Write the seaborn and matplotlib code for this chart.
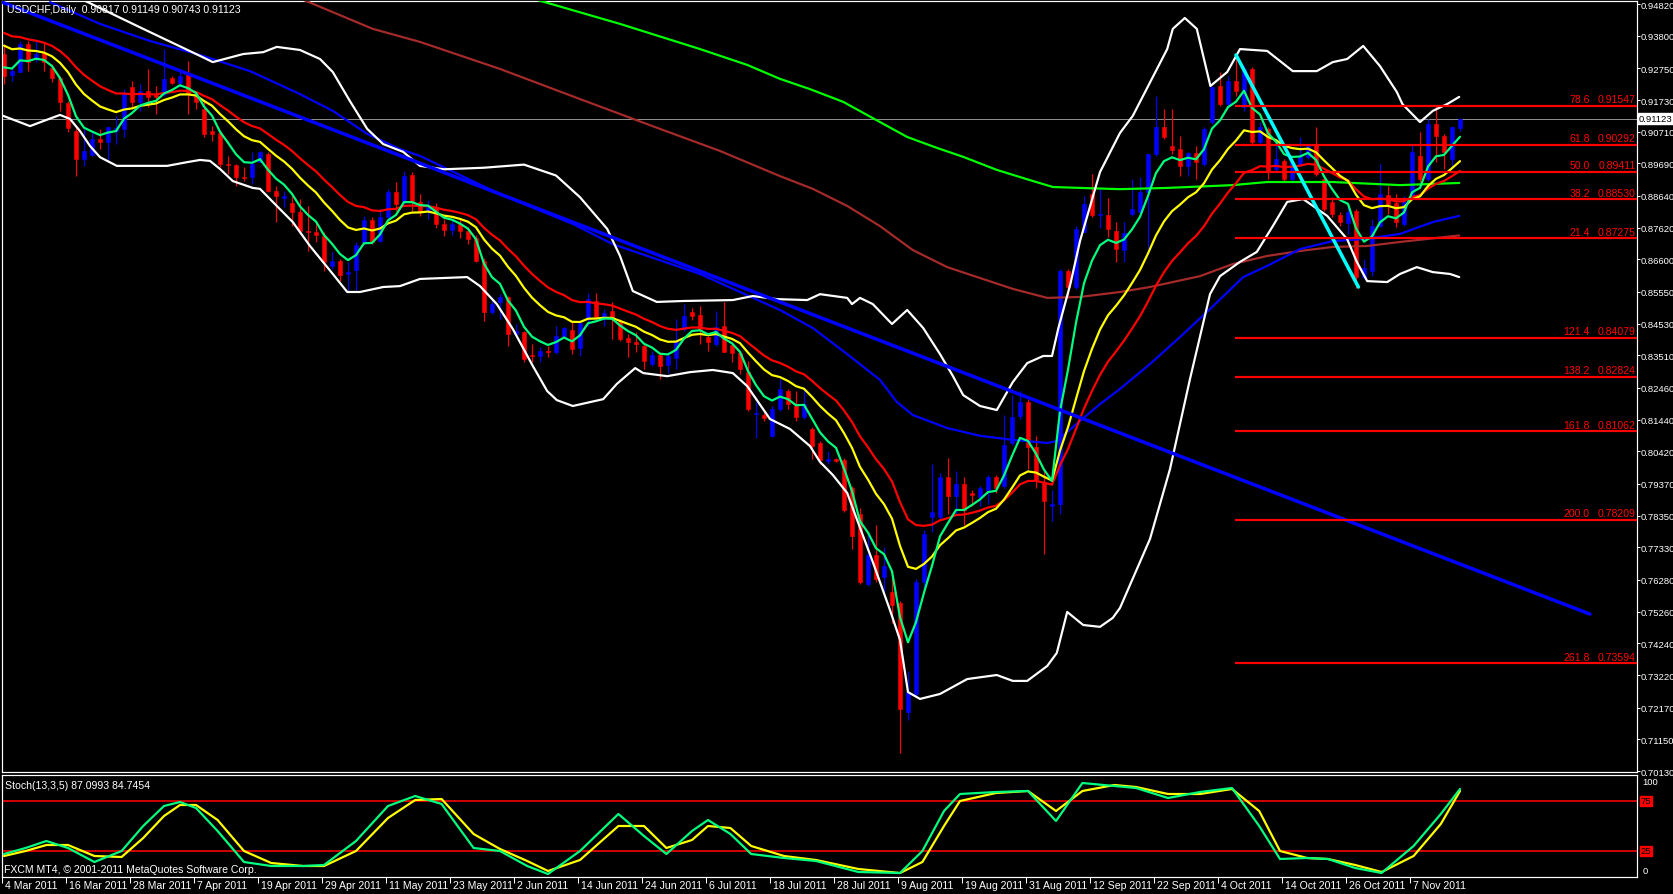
import numpy as np
import pandas as pd
import matplotlib
matplotlib.use("Agg")
import matplotlib.pyplot as plt
import matplotlib.transforms as mtransforms
import seaborn as sns

# ---------------- data ----------------
opens = [0.9321,0.9255,0.9264,0.9353,0.9307,0.9324,0.9275,0.9243,0.9163,0.9074,
         0.8983,0.8996,0.9047,0.9037,0.9074,0.9080,0.9214,0.9168,0.9203,0.9189,
         0.9192,0.9243,0.9228,0.9257,0.9187,0.9144,0.9074,0.9067,0.8968,0.8964,
         0.8926,0.8926,0.8974,0.9000,0.8881,0.8859,0.8841,0.8811,0.8752,0.8747,
         0.8734,0.8640,0.8654,0.8613,0.8627,0.8715,0.8788,0.8720,0.8795,0.8876,
         0.8844,0.8933,0.8844,0.8815,0.8830,0.8775,0.8755,0.8775,0.8750,0.8728,
         0.8656,0.8489,0.8522,0.8538,0.8420,0.8425,0.8352,0.8348,0.8364,0.8361,
         0.8412,0.8433,0.8374,0.8468,0.8527,0.8473,0.8495,0.8458,0.8406,0.8393,
         0.8382,0.8323,0.8352,0.8321,0.8341,0.8436,0.8489,0.8481,0.8409,0.8388,
         0.8447,0.8384,0.8359,0.8296,0.8161,0.8159,0.8092,0.8178,0.8237,0.8189,
         0.8151,0.8114,0.8069,0.8012,0.8017,0.8014,0.7923,0.7839,0.7616,0.7707,
         0.7637,0.7588,0.7553,0.7204,0.7260,0.7623,0.7832,0.7832,0.7958,0.7898,
         0.7937,0.7909,0.7895,0.7916,0.7958,0.7930,0.8070,0.8157,0.8202,0.8056,
         0.7944,0.7867,0.7874,0.8621,0.8572,0.8747,0.8872,0.8802,0.8802,0.8752,
         0.8691,0.8806,0.8812,0.8876,0.9000,0.9085,0.9026,0.9015,0.8962,0.9002,
         0.8967,0.9101,0.9217,0.9160,0.9235,0.9149,0.9273,0.9037,0.9080,0.8951,
         0.8978,0.8919,0.8967,0.8988,0.9031,0.8919,0.8846,0.8803,0.8777,0.8817,
         0.8602,0.8624,0.8768,0.8867,0.8841,0.8774,0.8867,0.8994,0.8919,0.9096,
         0.9058,0.8983,0.90817]
highs = [0.9353,0.9284,0.9364,0.9364,0.9364,0.9359,0.9289,0.9251,0.9171,0.9085,
         0.9080,0.9069,0.9080,0.9090,0.9123,0.9208,0.9235,0.9225,0.9273,0.9219,
         0.9337,0.9251,0.9273,0.9300,0.9198,0.9171,0.9090,0.9069,0.8994,0.8967,
         0.8956,0.9005,0.9010,0.9005,0.8897,0.8881,0.8865,0.8854,0.8833,0.8785,
         0.8747,0.8683,0.8661,0.8650,0.8715,0.8801,0.8795,0.8822,0.8887,0.8908,
         0.8945,0.8940,0.8870,0.8850,0.8840,0.8790,0.8790,0.8790,0.8765,0.8740,
         0.8665,0.8538,0.8548,0.8543,0.8452,0.8430,0.8388,0.8377,0.8382,0.8447,
         0.8441,0.8457,0.8457,0.8552,0.8552,0.8500,0.8522,0.8468,0.8420,0.8425,
         0.8388,0.8366,0.8361,0.8361,0.8468,0.8516,0.8505,0.8509,0.8414,0.8495,
         0.8522,0.8388,0.8361,0.8334,0.8200,0.8173,0.8189,0.8275,0.8243,0.8237,
         0.8248,0.8119,0.8076,0.8042,0.8021,0.8021,0.7930,0.7860,0.7783,0.7804,
         0.7734,0.7637,0.7560,0.7336,0.7630,0.7790,0.8000,0.7972,0.8021,0.7979,
         0.7958,0.7916,0.7930,0.7965,0.7965,0.8160,0.8223,0.8237,0.8209,0.8090,
         0.7986,0.7916,0.8628,0.8628,0.8768,0.8865,0.8935,0.8886,0.8858,0.8779,
         0.8779,0.8919,0.8924,0.8999,0.9187,0.9144,0.9144,0.9058,0.9005,0.9026,
         0.9085,0.9219,0.9262,0.9251,0.9314,0.9284,0.9278,0.9101,0.9085,0.9048,
         0.8983,0.8978,0.9053,0.9031,0.9085,0.8924,0.8860,0.8811,0.8833,0.8822,
         0.8661,0.8790,0.8967,0.8897,0.8870,0.8865,0.9031,0.9069,0.9112,0.9155,
         0.9064,0.9090,0.91149]
lows = [0.9225,0.9235,0.9262,0.9267,0.9294,0.9267,0.9230,0.9139,0.9069,0.8929,
        0.8962,0.8994,0.9015,0.8978,0.9031,0.9053,0.9149,0.9139,0.9149,0.9128,
        0.9187,0.9225,0.9214,0.9128,0.9144,0.9053,0.9042,0.8956,0.8935,0.8897,
        0.8913,0.8903,0.8972,0.8876,0.8779,0.8827,0.8768,0.8742,0.8688,0.8715,
        0.8624,0.8629,0.8591,0.8554,0.8554,0.8709,0.8709,0.8715,0.8790,0.8817,
        0.8838,0.8817,0.8800,0.8790,0.8760,0.8735,0.8740,0.8730,0.8709,0.8650,
        0.8463,0.8484,0.8468,0.8382,0.8414,0.8331,0.8329,0.8329,0.8345,0.8355,
        0.8409,0.8355,0.8348,0.8447,0.8468,0.8447,0.8404,0.8398,0.8345,0.8361,
        0.8307,0.8318,0.8275,0.8294,0.8307,0.8430,0.8466,0.8388,0.8366,0.8382,
        0.8361,0.8331,0.8291,0.8173,0.8084,0.8141,0.8087,0.8173,0.8178,0.8141,
        0.8146,0.8017,0.8000,0.8000,0.8007,0.7846,0.7727,0.7616,0.7609,0.7623,
        0.7588,0.7490,0.7071,0.7176,0.7253,0.7588,0.7783,0.7825,0.7839,0.7839,
        0.7804,0.7867,0.7867,0.7874,0.7909,0.7923,0.8063,0.8146,0.7986,0.7923,
        0.7713,0.7818,0.7839,0.8544,0.8565,0.8747,0.8795,0.8761,0.8733,0.8650,
        0.8650,0.8801,0.8806,0.8693,0.8994,0.9047,0.8999,0.8929,0.8929,0.8919,
        0.8962,0.9096,0.9155,0.9155,0.9187,0.9139,0.9031,0.9031,0.8919,0.8945,
        0.8908,0.8908,0.8962,0.8983,0.8929,0.8817,0.8795,0.8768,0.8742,0.8568,
        0.8597,0.8607,0.8763,0.8806,0.8763,0.8768,0.8865,0.8908,0.8913,0.8972,
        0.8951,0.8962,0.90743]
closes = [0.9251,0.9267,0.9353,0.9294,0.9321,0.9294,0.9243,0.9166,0.9082,0.8983,
          0.9010,0.9047,0.9037,0.9085,0.9082,0.9192,0.9168,0.9203,0.9182,0.9183,
          0.9241,0.9228,0.9251,0.9192,0.9166,0.9064,0.9064,0.8967,0.8965,0.8924,
          0.8922,0.8967,0.9005,0.8881,0.8863,0.8862,0.8811,0.8750,0.8748,0.8739,
          0.8652,0.8654,0.8611,0.8618,0.8706,0.8788,0.8715,0.8795,0.8876,0.8838,
          0.8927,0.8844,0.8815,0.8830,0.8775,0.8755,0.8775,0.8750,0.8726,0.8656,
          0.8489,0.8516,0.8538,0.8420,0.8430,0.8339,0.8348,0.8366,0.8361,0.8412,
          0.8438,0.8371,0.8455,0.8532,0.8473,0.8487,0.8468,0.8404,0.8393,0.8388,
          0.8334,0.8352,0.8316,0.8350,0.8398,0.8477,0.8479,0.8436,0.8393,0.8441,
          0.8363,0.8359,0.8307,0.8178,0.8164,0.8148,0.8178,0.8243,0.8194,0.8151,
          0.8194,0.8060,0.8014,0.8016,0.8012,0.7853,0.7769,0.7623,0.7707,0.7630,
          0.7672,0.7546,0.7211,0.7267,0.7623,0.7776,0.7846,0.7958,0.7898,0.7937,
          0.7853,0.7902,0.7923,0.7958,0.7923,0.8063,0.8153,0.8202,0.8056,0.7951,
          0.7881,0.7874,0.8621,0.8572,0.8758,0.8837,0.8802,0.8805,0.8758,0.8693,
          0.8745,0.8822,0.8878,0.8999,0.9085,0.9053,0.9013,0.8962,0.9002,0.8972,
          0.9080,0.9214,0.9160,0.9235,0.9203,0.9273,0.9037,0.9085,0.8945,0.8983,
          0.8919,0.8972,0.8994,0.9026,0.8935,0.8822,0.8806,0.8779,0.8814,0.8602,
          0.8631,0.8768,0.8870,0.8838,0.8779,0.8849,0.9005,0.8919,0.9096,0.9058,
          0.9005,0.9085,0.91123]

# moving-average seeds read at the first bar (EMA 5 / 13 / 21)
ema_seeds = {"fast": 0.9278, "mid": 0.9348, "slow": 0.9389}

# Bollinger bands (bar index, price)
bb_up_x = [9.5,17.4,24.5,26.1,29.9,32.4,34.1,37.0,39.5,41.1,43.3,45.4,47.4,49.9,52.0,
           55,60,65,69,72,75.4,77.0,78.6,81.6,84.9,91.1,93.6,96.6,100.4,102.0,105.4,
           106.0,107.0,108.6,111.0,112.9,114.9,117.0,118.6,119.9,122.0,124.1,126.1,
           127.9,129.9,131.0,131.8,133.3,134.5,137.0,139.5,141.1,145.4,146.1,147.6,
           149.1,150.8,152.9,154.5,157.9,161.1,164.1,166.1,167.9,169.9,172.0,174.1,
           174.8,177.0,178.6,180.4,181.9]
bb_up_y = [0.9500,0.9402,0.9315,0.9295,0.9321,0.9327,0.9344,0.9334,0.9305,0.9263,0.9167,
           0.9080,0.9031,0.9006,0.8961,0.8950,0.8955,0.8965,0.8930,0.8860,0.8758,0.8671,
           0.8558,0.8523,0.8526,0.8529,0.8542,0.8532,0.8529,0.8548,0.8536,0.8516,0.8536,
           0.8516,0.8452,0.8497,0.8439,0.8355,0.8285,0.8223,0.8188,0.8175,0.8265,0.8326,
           0.8349,0.8349,0.8439,0.8581,0.8719,0.8941,0.9067,0.9122,0.9337,0.9402,0.9437,
           0.9402,0.9218,0.9263,0.9337,0.9331,0.9266,0.9266,0.9295,0.9305,0.9347,0.9282,
           0.9199,0.9160,0.9102,0.9138,0.9160,0.9183]
bb_lo_x = [-0.1,3.25,4.9,7.0,8.25,9.5,10.75,12.0,14.1,20.4,22.9,24.5,25.75,27.0,28.6,
           31.1,32.0,34.1,36.1,38.25,41.1,42.9,44.5,47.4,49.5,52.0,57.9,59.5,61.6,63.6,
           66.1,67.9,69.1,71.1,74.9,76.6,78.9,79.9,82.9,85.75,88.6,91.1,92.9,95.75,
           98.25,100.75,102.0,103.6,105.4,106.6,108.6,110.75,112.0,113.0,114.5,117.0,
           120.4,124.1,126.1,127.9,130.4,131.6,132.9,134.9,137.0,138.6,139.5,143.25,
           145.75,148.25,150.75,152.0,154.5,156.6,158.6,160.4,162.4,165.4,167.9,169.1,
           170.4,172.9,174.5,176.6,178.6,180.75,181.9]
bb_lo_y = [0.9122,0.9089,0.9105,0.9125,0.9112,0.9073,0.9025,0.8989,0.8961,0.8961,0.8973,
           0.8980,0.8977,0.8951,0.8912,0.8890,0.8887,0.8832,0.8780,0.8703,0.8613,0.8555,
           0.8555,0.8571,0.8574,0.8597,0.8603,0.8574,0.8516,0.8436,0.8317,0.8236,0.8207,
           0.8188,0.8210,0.8259,0.8310,0.8294,0.8284,0.8297,0.8304,0.8294,0.8252,0.8146,
           0.8114,0.8059,0.8008,0.7966,0.7908,0.7824,0.7686,0.7531,0.7435,0.7267,0.7245,
           0.7261,0.7309,0.7322,0.7303,0.7303,0.7351,0.7393,0.7525,0.7483,0.7477,0.7506,
           0.7538,0.7760,0.7985,0.8275,0.8548,0.8606,0.8652,0.8684,0.8767,0.8845,0.8854,
           0.8800,0.8725,0.8652,0.8590,0.8587,0.8613,0.8635,0.8619,0.8613,0.8603]

# long moving averages (bar index, price)
ma_blue_x = [5.75,12,18.25,24.5,30.75,37,41.1,45.4,49.5,52,62,71.1,76.1,87,97,101.1,
             105.4,109.5,111.6,113.6,117.9,122,126.1,130.4,131.6,134.5,137,139.5,
             143.25,147,150.75,154.9,157.9,162,166.1,170.4,174.5,178.6,181.9]
ma_blue_y = [0.9488,0.9418,0.9363,0.9318,0.9266,0.9192,0.9138,0.9064,0.9015,0.8993,
             0.8870,0.8774,0.8709,0.8613,0.8497,0.8439,0.8355,0.8272,0.8201,0.8159,
             0.8117,0.8092,0.8079,0.8069,0.8075,0.8140,0.8194,0.8243,0.8323,0.8410,
             0.8500,0.8603,0.8639,0.8693,0.8719,0.8726,0.8742,0.8780,0.8800]
ma_brown_x = [37.0,46.1,52.0,62,72,82,89.5,97.0,101.1,105.4,109.5,113.6,117.9,122.0,
              126.1,130.4,134.5,139.5,143.25,149.5,153.6,157.9,162.0,166.1,170.4,
              174.5,181.9]
ma_brown_y = [0.9500,0.9402,0.9360,0.9273,0.9176,0.9080,0.9009,0.8928,0.8887,0.8832,
              0.8767,0.8690,0.8635,0.8600,0.8565,0.8536,0.8539,0.8555,0.8571,0.8606,
              0.8645,0.8671,0.8687,0.8700,0.8703,0.8716,0.8737]
ma_lime_x = [66,77,87,92.9,97.0,100.75,104.9,109.5,112.9,116.6,119.9,124.1,128.25,
             131.1,134.5,139.5,145.4,153.6,157.9,166.1,174.5,181.9]
ma_lime_y = [0.9500,0.9418,0.9337,0.9286,0.9241,0.9208,0.9167,0.9102,0.9054,0.9019,
             0.8990,0.8948,0.8915,0.8893,0.8890,0.8886,0.8890,0.8899,0.8909,0.8909,
             0.8899,0.8906]

# drawn objects
trend_x = [-0.25, 198.25]
trend_y = [0.9488, 0.7518]
swing_x = [154.0, 169.3]
swing_y = [0.9318, 0.8571]
fib_levels = ["78.6","61.8","50.0","38.2","21.4","121.4","138.2","161.8","200.0","261.8"]
fib_prices = [0.91547,0.90292,0.89411,0.88530,0.87275,0.84079,0.82824,0.81062,0.78209,0.73594]
fib_start = 153.9

# stochastic (13,3,5) main / signal
stoch_x = [0,2.7,5.3,8,11.3,14.7,17.4,20,22,24,26.7,30,33.4,37.4,40,44,48,51.4,54.7,58.7,
           62,65.4,68,72,76.8,80,82.8,86,88,90.8,93.4,97.5,101.5,106.8,112,114.8,117.5,
           119.5,124,128,131.5,134.8,138.8,141.5,145.5,149.5,153.5,156.9,159.5,162.9,
           165.5,168.9,172.2,176.2,179.6,182]
stoch_main = [22,28,35,28,14,25,50,70,74,68,45,14,10,10,11,35,70,80,72,28,25,10,2,25,62,
              40,22,45,56,42,22,18,15,4,3,25,65,82,84,85,55,93,90,88,78,84,88,50,17,18,
              17,8,3,30,62,87]
stoch_sig = [20,25,31,31,20,19,38,60,71,71,56,25,13,10,10,25,58,76,77,42,27,15,5,16,50,
             50,28,36,50,48,30,20,16,7,3,14,50,75,83,85,65,85,91,89,82,82,87,65,25,18,
             17,11,4,20,52,85]
stoch_levels = [75, 25]

price_ticks = [0.94820,0.93800,0.92750,0.91730,0.90710,0.89690,0.88640,0.87620,0.86600,
               0.85550,0.84530,0.83510,0.82460,0.81440,0.80420,0.79370,0.78350,0.77330,
               0.76280,0.75260,0.74240,0.73220,0.72170,0.71150,0.70130]
last_price = 0.91123
date_labels = ["4 Mar 2011","16 Mar 2011","28 Mar 2011","7 Apr 2011","19 Apr 2011",
               "29 Apr 2011","11 May 2011","23 May 2011","2 Jun 2011","14 Jun 2011",
               "24 Jun 2011","6 Jul 2011","18 Jul 2011","28 Jul 2011","9 Aug 2011",
               "19 Aug 2011","31 Aug 2011","12 Sep 2011","22 Sep 2011","4 Oct 2011",
               "14 Oct 2011","26 Oct 2011","7 Nov 2011"]
date_bars = list(range(0, 177, 8))

title_text = "USDCHF,Daily  0.90817 0.91149 0.90743 0.91123"
stoch_text = "Stoch(13,3,5) 87.0993 84.7454"
copyright_text = "FXCM MT4, \u00a9 2001-2011 MetaQuotes Software Corp."

# ---------------- style ----------------
sns.set_theme(style="dark", rc={"axes.facecolor": "black", "figure.facecolor": "black"})
plt.rcParams['font.family'] = ['Liberation Sans Narrow', 'Liberation Sans', 'DejaVu Sans']
FS = 7.6      # general text
FS_AX = 6.8   # price-scale labels
FS_FIB = 7.6  # fibonacci labels

W, H = 1674, 895
PX = 0.72  # one pixel in points at dpi 100
fig = plt.figure(figsize=(W/100, H/100), dpi=100, facecolor='black')

def fx(x):
    return x / W

def fy(y):
    return 1 - y / H

ax = fig.add_axes([fx(2), fy(773), fx(1635), 771/H])
axs = fig.add_axes([fx(2), fy(878), fx(1635), 102/H])
XL = (-0.25, 204.125)
for a in (ax, axs):
    a.set_facecolor('black')
    a.set_xlim(*XL)
    for s in a.spines.values():
        s.set_color('white')
        s.set_linewidth(1.2 * PX)
    a.grid(False)
ax.set_ylim(0.70098, 0.94917)
axs.set_ylim(-1, 101)

df = pd.DataFrame({"o": opens, "h": highs, "l": lows, "c": closes})
df["i"] = np.arange(len(df))
bull = df["c"] >= df["o"]
cols = np.where(bull, "#0000FF", "#FF0000")

# candles
ax.vlines(df["i"], df["l"], df["h"], colors=cols, linewidth=1.2*PX, zorder=2)
body = (df["c"] - df["o"]).abs().clip(lower=0.00035)
ax.bar(df["i"], body, bottom=np.minimum(df["o"], df["c"]), width=0.6,
       color=cols, edgecolor=cols, linewidth=0.5*PX, zorder=2)

# EMAs from closes
def ema(vals, period, seed):
    a = 2.0 / (period + 1)
    out = [seed]
    for v in vals[1:]:
        out.append(out[-1] + a * (v - out[-1]))
    return np.array(out)

e5 = ema(closes, 5, ema_seeds["fast"])
e13 = ema(closes, 13, ema_seeds["mid"])
e21 = ema(closes, 21, ema_seeds["slow"])

lw2 = 2.2 * PX
def line(a, x, y, color, lw, z=3):
    sns.lineplot(x=x, y=y, ax=a, color=color, linewidth=lw, sort=False,
                 estimator=None, legend=False, zorder=z)

line(ax, ma_lime_x, ma_lime_y, "#00FF00", lw2)
line(ax, ma_brown_x, ma_brown_y, "#A52A2A", lw2)
line(ax, ma_blue_x, ma_blue_y, "#0000FF", lw2)
line(ax, bb_up_x, bb_up_y, "white", lw2)
line(ax, bb_lo_x, bb_lo_y, "white", lw2)
line(ax, df["i"], e21, "#FF0000", lw2)
line(ax, df["i"], e13, "#FFFF00", lw2)
line(ax, df["i"], e5, "#00FF7F", lw2)

# objects
line(ax, trend_x, trend_y, "#0000FF", 3.5*PX, z=4)
line(ax, swing_x, swing_y, "#00FFFF", 3.5*PX, z=4)
ax.hlines(fib_prices, fib_start, XL[1], colors="#FF0000", linewidth=2.2*PX, zorder=4)
for lev, pr in zip(fib_levels, fib_prices):
    ax.annotate(lev, (198.25, pr), xytext=(0, 1.2), textcoords="offset points",
                ha="right", va="bottom", color="#FF0000", fontsize=FS_FIB, zorder=5)
    ax.annotate(f"{pr:.5f}", (204.0, pr), xytext=(0, 1.2), textcoords="offset points",
                ha="right", va="bottom", color="#FF0000", fontsize=FS_FIB, zorder=5)
ax.axhline(last_price, color="#8C8C8C", linewidth=1.0*PX, zorder=1)

# price axis
ax.yaxis.tick_right()
ax.set_yticks(price_ticks)
ax.set_yticklabels([f"{v:.5f}" for v in price_ticks])
ax.tick_params(axis='y', colors='white', labelcolor='white', labelsize=FS_AX,
               length=2.2, width=PX, pad=0.6, direction='out', right=True, left=False)
ax.set_xticks([])
ax.annotate(f"{last_price:.5f}", (1.0, last_price), xycoords=('axes fraction', 'data'),
            xytext=(1.5, 0), textcoords='offset points', ha='left', va='center',
            color='black', fontsize=FS_AX, zorder=6,
            bbox=dict(boxstyle='square,pad=0.1', fc='white', ec='white'))

# stochastic panel
axs.hlines(stoch_levels, XL[0], XL[1], colors="#FF0000", linewidth=1.6*PX, zorder=2)
line(axs, stoch_x, stoch_sig, "#FFFF00", lw2)
line(axs, stoch_x, stoch_main, "#00FF7F", lw2)
axs.set_yticks([])
for a in (ax, axs):
    a.set_ylabel("")
    a.set_xlabel("")
for lv in stoch_levels:
    axs.annotate(str(lv), (1.0, lv), xycoords=('axes fraction', 'data'), xytext=(2.5, 0),
                 textcoords='offset points', ha='left', va='center', color='black',
                 fontsize=FS_AX, bbox=dict(boxstyle='square,pad=0.1', fc='#FF0000', ec='#FF0000'))
axs.annotate("100", (1.0, 94), xycoords=('axes fraction', 'data'), xytext=(4, 0),
             textcoords='offset points', ha='left', va='center', color='white', fontsize=FS_AX)
axs.annotate("0", (1.0, 5), xycoords=('axes fraction', 'data'), xytext=(4, 0),
             textcoords='offset points', ha='left', va='center', color='white', fontsize=FS_AX)

# date axis
tick_pos = [b - 0.25 for b in date_bars]
axs.set_xticks(tick_pos)
axs.set_xticklabels([])
axs.tick_params(axis='x', colors='white', length=4, width=PX, direction='out', bottom=True)
trans = mtransforms.blended_transform_factory(axs.transData, axs.transAxes)
for p, lab in zip(tick_pos, date_labels):
    axs.text(p + 0.35, -0.025, lab, transform=trans, ha='left', va='top',
             color='white', fontsize=FS)

fig.text(fx(7), fy(10), title_text, color='white', fontsize=FS, va='center', ha='left')
fig.text(fx(5), fy(786), stoch_text, color='white', fontsize=FS, va='center', ha='left')
fig.text(fx(4), fy(870), copyright_text, color='white', fontsize=FS, va='center', ha='left')

fig.savefig("out.png", dpi=100, facecolor='black')
